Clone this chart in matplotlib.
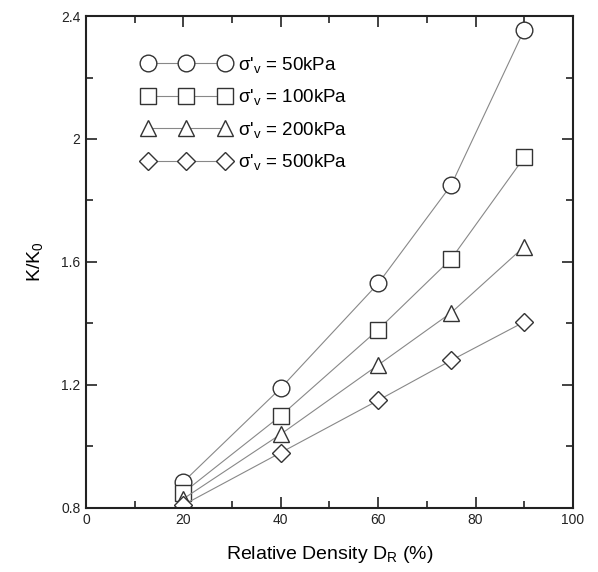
import matplotlib
matplotlib.use("Agg")
import matplotlib.pyplot as plt
from matplotlib.ticker import MultipleLocator

plt.rcParams['font.family'] = ['Liberation Sans', 'DejaVu Sans']
plt.rcParams['mathtext.fontset'] = 'custom'
plt.rcParams['mathtext.rm'] = 'Liberation Sans'
plt.rcParams['mathtext.it'] = 'Liberation Sans'

# Relative density (%) and normalised stiffness K/K0 for each vertical stress
density = [20, 40, 60, 75, 90]
k_50 = [0.885, 1.19, 1.53, 1.85, 2.355]
k_100 = [0.85, 1.10, 1.38, 1.61, 1.94]
k_200 = [0.83, 1.04, 1.265, 1.435, 1.65]
k_500 = [0.81, 0.98, 1.15, 1.28, 1.405]

labels = [r"σ'$_\mathregular{v}$ = 50kPa", r"σ'$_\mathregular{v}$ = 100kPa",
          r"σ'$_\mathregular{v}$ = 200kPa", r"σ'$_\mathregular{v}$ = 500kPa"]
markers = ['o', 's', '^', 'D']
sizes = [12, 12, 11, 9]

fig = plt.figure(figsize=(5.98, 5.72), dpi=100)
ax = fig.add_axes([0.144, 0.112, 0.814, 0.86])

for ys, lab, m, ms in zip([k_50, k_100, k_200, k_500], labels, markers, sizes):
    ax.plot(density, ys, color='#888888', lw=0.8, marker=m, ms=ms,
            mfc='white', mec='#333333', mew=1.0, label=lab)

ax.set_xlim(0, 100)
ax.set_ylim(0.8, 2.4)
ax.xaxis.set_minor_locator(MultipleLocator(10))
ax.yaxis.set_minor_locator(MultipleLocator(0.2))
ax.set_xticks([0, 20, 40, 60, 80, 100])
ax.set_xticklabels(['0', '20', '40', '60', '80', '100'])
ax.set_yticks([0.8, 1.2, 1.6, 2.0, 2.4])
ax.set_yticklabels(['0.8', '1.2', '1.6', '2', '2.4'])

ax.tick_params(which='both', direction='in', top=True, right=True,
               labelsize=10, width=1.2, colors='#222222')
ax.tick_params(which='major', length=8)
ax.tick_params(axis='x', which='major', pad=4)
ax.tick_params(axis='y', which='major', pad=4)
ax.tick_params(which='minor', length=5)
for s in ax.spines.values():
    s.set_linewidth(1.5)
    s.set_color('#222222')

ax.set_xlabel(r"Relative Density D$_\mathregular{R}$ (%)", fontsize=14, labelpad=12)
ax.set_ylabel(r"K/K$_\mathregular{0}$", fontsize=14, labelpad=12)

leg = ax.legend(loc='upper left', bbox_to_anchor=(0.08, 0.955), frameon=False,
                numpoints=3, handlelength=4.75, handletextpad=0.4,
                labelspacing=0.66, fontsize=13.5)

fig.savefig("out.png", dpi=100)
